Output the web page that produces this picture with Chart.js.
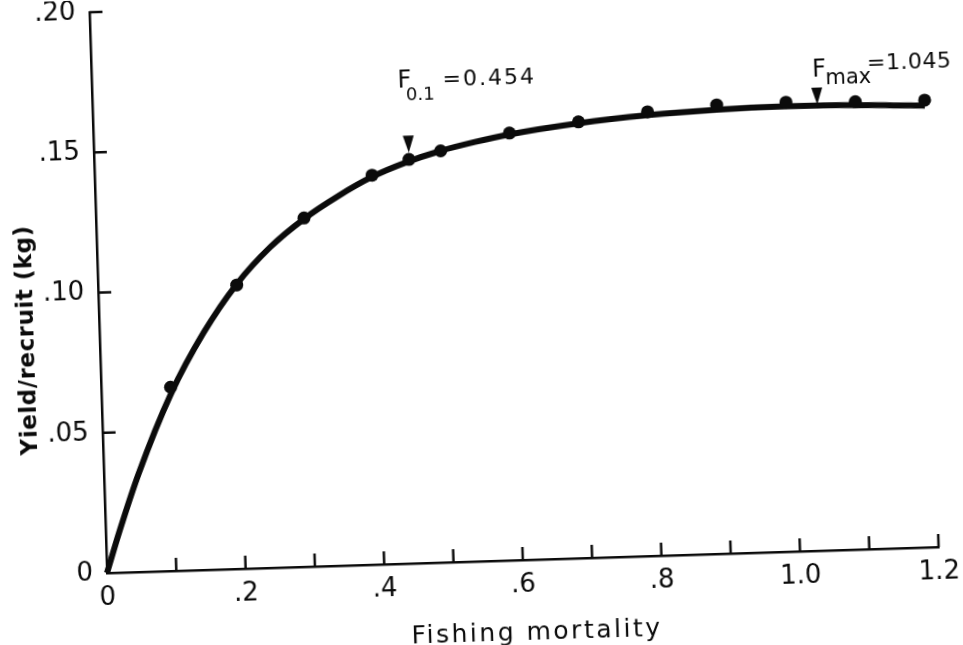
<!DOCTYPE html>
<html>
<head>
<meta charset="utf-8">
<script src="https://cdn.jsdelivr.net/npm/chart.js@4"></script>
<style>
  html, body { margin: 0; padding: 0; background: #fff; overflow: hidden; width: 963px; height: 645px; }
  /* the printed figure sits slightly tilted on the page */
  #wrap { position: absolute; left: 0; top: 0; width: 1000px; height: 700px;
          transform-origin: 107px 573px; transform: rotate(-1.79deg); }
  canvas { display: block; }
</style>
</head>
<body>
<div id="wrap"><canvas id="ypr" width="1000" height="700"></canvas></div>
<script>
// Yield per recruit against fishing mortality
const xTicks = [0, 0.1, 0.2, 0.3, 0.4, 0.5, 0.6, 0.7, 0.8, 0.9, 1.0, 1.1, 1.2];
const xTickLabels = ['0', '', '.2', '', '.4', '', '.6', '', '.8', '', '1.0', '', '1.2'];
const yTicks = [0, 0.05, 0.10, 0.15, 0.20];
const yTickLabels = ['0', '.05', '.10', '.15', '.20'];

// fitted yield curve
const curveF = [0, 0.02, 0.05, 0.1, 0.15, 0.2, 0.25, 0.3, 0.35, 0.4, 0.45, 0.5, 0.55, 0.6, 0.7, 0.8, 0.9, 1.0, 1.1, 1.2, 1.225];
const curveY = [0, 0.0148, 0.0350, 0.0630, 0.0845, 0.1015, 0.1143, 0.1240, 0.1317, 0.1382, 0.1430, 0.1467, 0.1495, 0.1518, 0.1550, 0.1571, 0.1583, 0.1587, 0.1584, 0.1574, 0.1571];

// computed yields
const pointF = [0.1, 0.2, 0.3, 0.4, 0.454, 0.5, 0.6, 0.7, 0.8, 0.9, 1.0, 1.1, 1.2];
const pointY = [0.0655, 0.1012, 0.1243, 0.1388, 0.1440, 0.1467, 0.1523, 0.1555, 0.1583, 0.1600, 0.1602, 0.1596, 0.1594];

// reference fishing mortalities, marked with arrows
const refNames = ['F0.1', 'Fmax'];
const refF = [0.454, 1.045];
const refTipY = [0.1464, 0.1590];

const INK = '#0b0b0b';
const FONT = '"DejaVu Sans", sans-serif';

const decorations = {
  id: 'decorations',
  afterDraw(chart) {
    const { ctx, chartArea: a } = chart;
    const xs = chart.scales.x, ys = chart.scales.y;
    ctx.save();
    ctx.strokeStyle = INK;
    ctx.fillStyle = INK;
    ctx.lineWidth = 2.5;
    ctx.lineCap = 'butt';

    // inward tick marks
    const tl = 13;
    xs.ticks.forEach(t => {
      if (t.value === 0) return;
      const px = xs.getPixelForValue(t.value);
      ctx.beginPath(); ctx.moveTo(px, a.bottom); ctx.lineTo(px, a.bottom - tl); ctx.stroke();
    });
    ys.ticks.forEach(t => {
      if (t.value === 0) return;
      const py = ys.getPixelForValue(t.value);
      ctx.beginPath(); ctx.moveTo(a.left, py); ctx.lineTo(a.left + tl, py); ctx.stroke();
    });

    // arrows and their labels
    refF.forEach((f, i) => {
      const ax = xs.getPixelForValue(f);
      const tip = ys.getPixelForValue(refTipY[i]);
      ctx.beginPath();
      ctx.moveTo(ax, tip); ctx.lineTo(ax - 5.5, tip - 17); ctx.lineTo(ax + 5.5, tip - 17);
      ctx.closePath(); ctx.fill();

      const sub = refNames[i].slice(1);
      const value = '=' + f.toFixed(3);
      ctx.textBaseline = 'alphabetic';
      ctx.textAlign = 'left';
      if (i === 0) {
        ctx.font = '24px ' + FONT;
        ctx.fillText('F', ax - 9, 97);
        ctx.font = '18px ' + FONT;
        ctx.fillText(sub, ax - 1, 110);
        ctx.font = '22px ' + FONT;
        ctx.letterSpacing = '2px';
        ctx.fillText(value, ax + 36, 97);
        ctx.letterSpacing = '0px';
      } else {
        ctx.font = '24px ' + FONT;
        ctx.fillText('F', ax - 4, 99);
        ctx.font = '21px ' + FONT;
        ctx.fillText(sub, ax + 9, 107);
        ctx.font = '22px ' + FONT;
        ctx.letterSpacing = '0.5px';
        ctx.fillText(value, ax + 51, 94);
        ctx.letterSpacing = '0px';
      }
    });

    // axis titles
    ctx.textAlign = 'center';
    ctx.textBaseline = 'alphabetic';
    ctx.font = '25px ' + FONT;
    ctx.letterSpacing = '2.5px';
    ctx.fillText('Fishing mortality', (a.left + a.right) / 2 + 12, 653);

    ctx.save();
    ctx.translate(35, 338);
    ctx.rotate(-Math.PI / 2);
    ctx.textBaseline = 'middle';
    ctx.font = 'bold 23px ' + FONT;
    ctx.letterSpacing = '0.5px';
    ctx.fillText('Yield/recruit (kg)', 0, 0);
    ctx.restore();

    ctx.restore();
  }
};

new Chart(document.getElementById('ypr'), {
  type: 'scatter',
  data: {
    datasets: [
      {
        type: 'line',
        data: curveF.map((f, i) => ({ x: f, y: curveY[i] })),
        borderColor: INK,
        borderWidth: 6,
        pointRadius: 0,
        cubicInterpolationMode: 'monotone',
        fill: false,
        clip: false,
        order: 2
      },
      {
        type: 'scatter',
        data: pointF.map((f, i) => ({ x: f, y: pointY[i] })),
        backgroundColor: INK,
        borderWidth: 0,
        pointRadius: 6.5,
        clip: false,
        order: 1
      }
    ]
  },
  options: {
    responsive: false,
    animation: false,
    devicePixelRatio: 1,
    layout: { padding: { left: 0, right: 61, top: 0, bottom: 0 } },
    plugins: { legend: { display: false }, tooltip: { enabled: false } },
    scales: {
      x: {
        type: 'linear', min: 0, max: 1.2,
        afterBuildTicks(s) { s.ticks = xTicks.map(v => ({ value: v })); },
        afterFit(s) { s.height = 127; },
        ticks: {
          autoSkip: false, maxRotation: 0, padding: 14, color: INK,
          font: { family: FONT, size: 26, lineHeight: 0.9 },
          callback: (v, i) => xTickLabels[i]
        },
        grid: { display: false, drawTicks: false },
        border: { display: true, color: INK, width: 2.5 }
      },
      y: {
        type: 'linear', min: 0, max: 0.2,
        afterBuildTicks(s) { s.ticks = yTicks.map(v => ({ value: v })); },
        afterFit(s) { s.width = 107; s.paddingTop = 12; s.paddingBottom = 0; },
        ticks: {
          autoSkip: false, padding: 14, color: INK,
          font: { family: FONT, size: 26, lineHeight: 0.9 },
          callback: (v, i) => yTickLabels[i]
        },
        grid: { display: false, drawTicks: false },
        border: { display: true, color: INK, width: 2.5 }
      }
    }
  },
  plugins: [decorations]
});
</script>
</body>
</html>
